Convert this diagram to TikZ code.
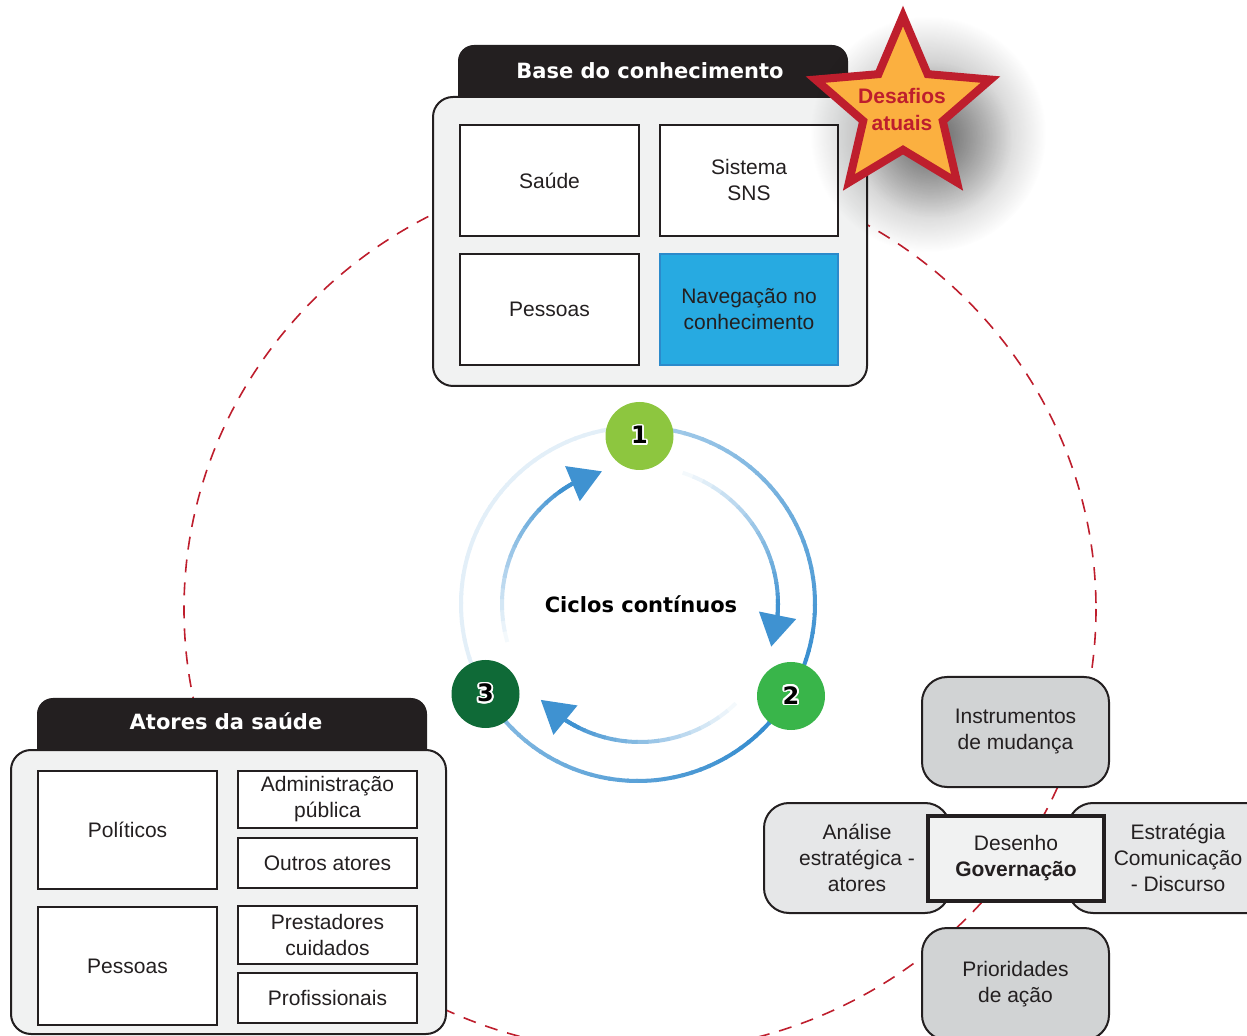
\documentclass[tikz,border=0pt]{standalone}
\usepackage{fontspec}
\setmainfont{Liberation Sans}
\newfontfamily\headfont{DejaVu Sans}
\usepackage[copies]{contour}
\usetikzlibrary{arrows.meta,bending,shapes.geometric,fadings}
\definecolor{inkdark}{HTML}{231F20}
\definecolor{panelgray}{HTML}{F1F2F2}
\definecolor{navblue}{HTML}{27AAE1}
\definecolor{navedge}{HTML}{2B8ACB}
\definecolor{dashred}{HTML}{BE1E2D}
\definecolor{staryellow}{HTML}{FBB040}
\definecolor{cycleblue}{HTML}{2A86CC}
\definecolor{stepone}{HTML}{8DC63F}
\definecolor{steptwo}{HTML}{39B54A}
\definecolor{stepthree}{HTML}{0F6A37}
\definecolor{boxgray}{HTML}{D1D3D4}
\definecolor{boxlight}{HTML}{E6E7E8}
\contourlength{0.9pt}
\tikzfading[name=starhaze, inner color=transparent!0, outer color=transparent!100]

\begin{document}
\begin{tikzpicture}[x=0.5pt, y=-0.5pt,
  font=\fontsize{10.5}{13}\selectfont, text=inkdark,
  wh/.style 2 args={minimum width=#1*0.5pt, minimum height=#2*0.5pt},
  tab/.style={rectangle, rounded corners=8pt, fill=inkdark, inner sep=0pt},
  tabtitle/.style={font=\headfont\bfseries\fontsize{10.5}{13}\selectfont, text=white},
  panel/.style={rectangle, rounded corners=10pt, draw=inkdark, line width=1pt,
                fill=panelgray, inner sep=0pt},
  cell/.style={rectangle, draw=inkdark, line width=1pt, fill=white, align=center,
               inner sep=2pt},
  navcell/.style={cell, draw=navedge, fill=navblue},
  orbit/.style={draw=dashred, line width=0.8pt, dash pattern=on 6.5pt off 5pt},
  desafio/.style={star, star points=5, star point ratio=2.2, minimum size=92pt,
                  inner sep=0pt, fill=staryellow, draw=dashred, line width=4pt},
  desafiotext/.style={font=\bfseries\fontsize{10.5}{13.5}\selectfont, text=dashred,
                      align=center},
  haze/.style={fill=black, path fading=starhaze},
  ring/.style={line width=2pt},
  cyclehead/.style={line width=2pt, draw=cycleblue!90!white,
                    -{Triangle[length=16pt, width=18.5pt, flex]}},
  stepdot/.style={circle, minimum size=34pt, inner sep=0pt, text=black,
                  font=\headfont\bfseries\fontsize{12}{12}\selectfont},
  cyclelabel/.style={font=\headfont\bfseries\fontsize{10.5}{13}\selectfont, text=black},
  roundbox/.style={rectangle, rounded corners=12.5pt, draw=inkdark, line width=1pt,
                   align=center, inner sep=2pt},
  corebox/.style={rectangle, draw=inkdark, line width=2pt, fill=panelgray,
                  align=center, inner sep=2pt},
]
\useasboundingbox (0,0) rectangle (1247,1036);

% dashed orbit behind everything
\draw[orbit] (640,609) ellipse [x radius=456, y radius=443];

% knowledge base panel
\node[tab, wh={390}{80}] (basetab) at (653,85) {};
\node[tabtitle] (basetitle) at (650,71) {Base do conhecimento};
\node[panel, wh={434}{289}] (basepanel) at (650,241.5) {};
\node[cell, wh={179}{111}] (saude) at (549.5,180.5) {Saúde};
\node[cell, wh={178}{111}] (sistema) at (749,180.5) {Sistema\\SNS};
\node[cell, wh={179}{111}] (pessoasbase) at (549.5,309.5) {Pessoas};
\node[navcell, wh={178}{111}] (navegacao) at (749,309.5) {Navegação no\\conhecimento};

% soft shadow under the star
\fill[haze, opacity=0.45] (928,134) circle [radius=118];
\fill[haze, opacity=0.3] (934,140) circle [radius=78];
\node[desafio] (desafios) at (903,108) {};
\node[desafiotext] (desafiostext) at (902,110) {Desafios\\atuais};

% health actors panel
\node[tab, wh={390}{80}] (atorestab) at (232,738) {};
\node[tabtitle] (atorestitle) at (226,721) {Atores da saúde};
\node[panel, wh={435}{284}] (atorespanel) at (228.5,892) {};
\node[cell, wh={179}{118}] (politicos) at (127.5,830) {Políticos};
\node[cell, wh={179}{118}] (pessoas) at (127.5,966) {Pessoas};
\node[cell, wh={179}{57}] (admin) at (327.5,799.5) {Administração\\pública};
\node[cell, wh={179}{50}] (outros) at (327.5,863) {Outros atores};
\node[cell, wh={179}{58}] (prestadores) at (327.5,935) {Prestadores\\cuidados};
\node[cell, wh={179}{50}] (profissionais) at (327.5,998) {Profissionais};

% cycle ring, faded on the left side
\coordinate (hub) at (638,604);
\foreach \a in {-90,-87,...,267} {
  \ifnum\a<31
    \pgfmathtruncatemacro\p{40+60*(\a+90)/121}
  \else\ifnum\a<150
    \pgfmathtruncatemacro\p{100-45*(\a-31)/119}
  \else
    \def\p{13}
  \fi\fi
  \draw[ring, draw=cycleblue!\p!white] ([shift={(hub)}]\a:177)
    arc[start angle=\a, end angle=\a+3.6, radius=177];
}

% inner arrows 1->2, 2->3, 3->1
\coordinate (inner) at (640,604);
\foreach \s in {-72,46,164} {
  \foreach \k in {0,...,16} {
    \pgfmathsetmacro\a{\s+\k*4.5}
    \pgfmathtruncatemacro\p{5+85*\k/16}
    \draw[ring, draw=cycleblue!\p!white] ([shift={(inner)}]\a:138)
      arc[start angle=\a, end angle=\a+5, radius=138];
  }
  \pgfmathsetmacro\b{\s+70}
  \pgfmathsetmacro\e{\s+90}
  \draw[cyclehead] ([shift={(inner)}]\b:138) arc[start angle=\b, end angle=\e, radius=138];
}

\node[stepdot, fill=stepone] (one) at (639.5,436) {\contour{white}{1}};
\node[stepdot, fill=steptwo] (two) at (791,696) {\contour{white}{2}};
\node[stepdot, fill=stepthree] (three) at (485.5,694) {\contour{white}{3}};
\node[cyclelabel] (ciclos) at (641,604) {Ciclos contínuos};

% governance cluster
\node[roundbox, fill=boxgray, wh={187}{110}] (instrumentos) at (1015.5,732)
  {Instrumentos\\de mudança};
\node[roundbox, fill=boxlight, wh={186}{110}] (analise) at (857,858)
  {Análise\\estratégica -\\atores};
\node[roundbox, fill=boxlight, wh={220}{110}] (estrategia) at (1178,858)
  {Estratégia\\Comunicação\\- Discurso};
\node[roundbox, fill=boxgray, wh={187}{112}] (prioridades) at (1015.5,984)
  {Prioridades\\de ação};
\node[corebox, wh={176}{85}] (desenho) at (1016,858.5)
  {Desenho\\\textbf{Governação}};
\end{tikzpicture}
\end{document}
